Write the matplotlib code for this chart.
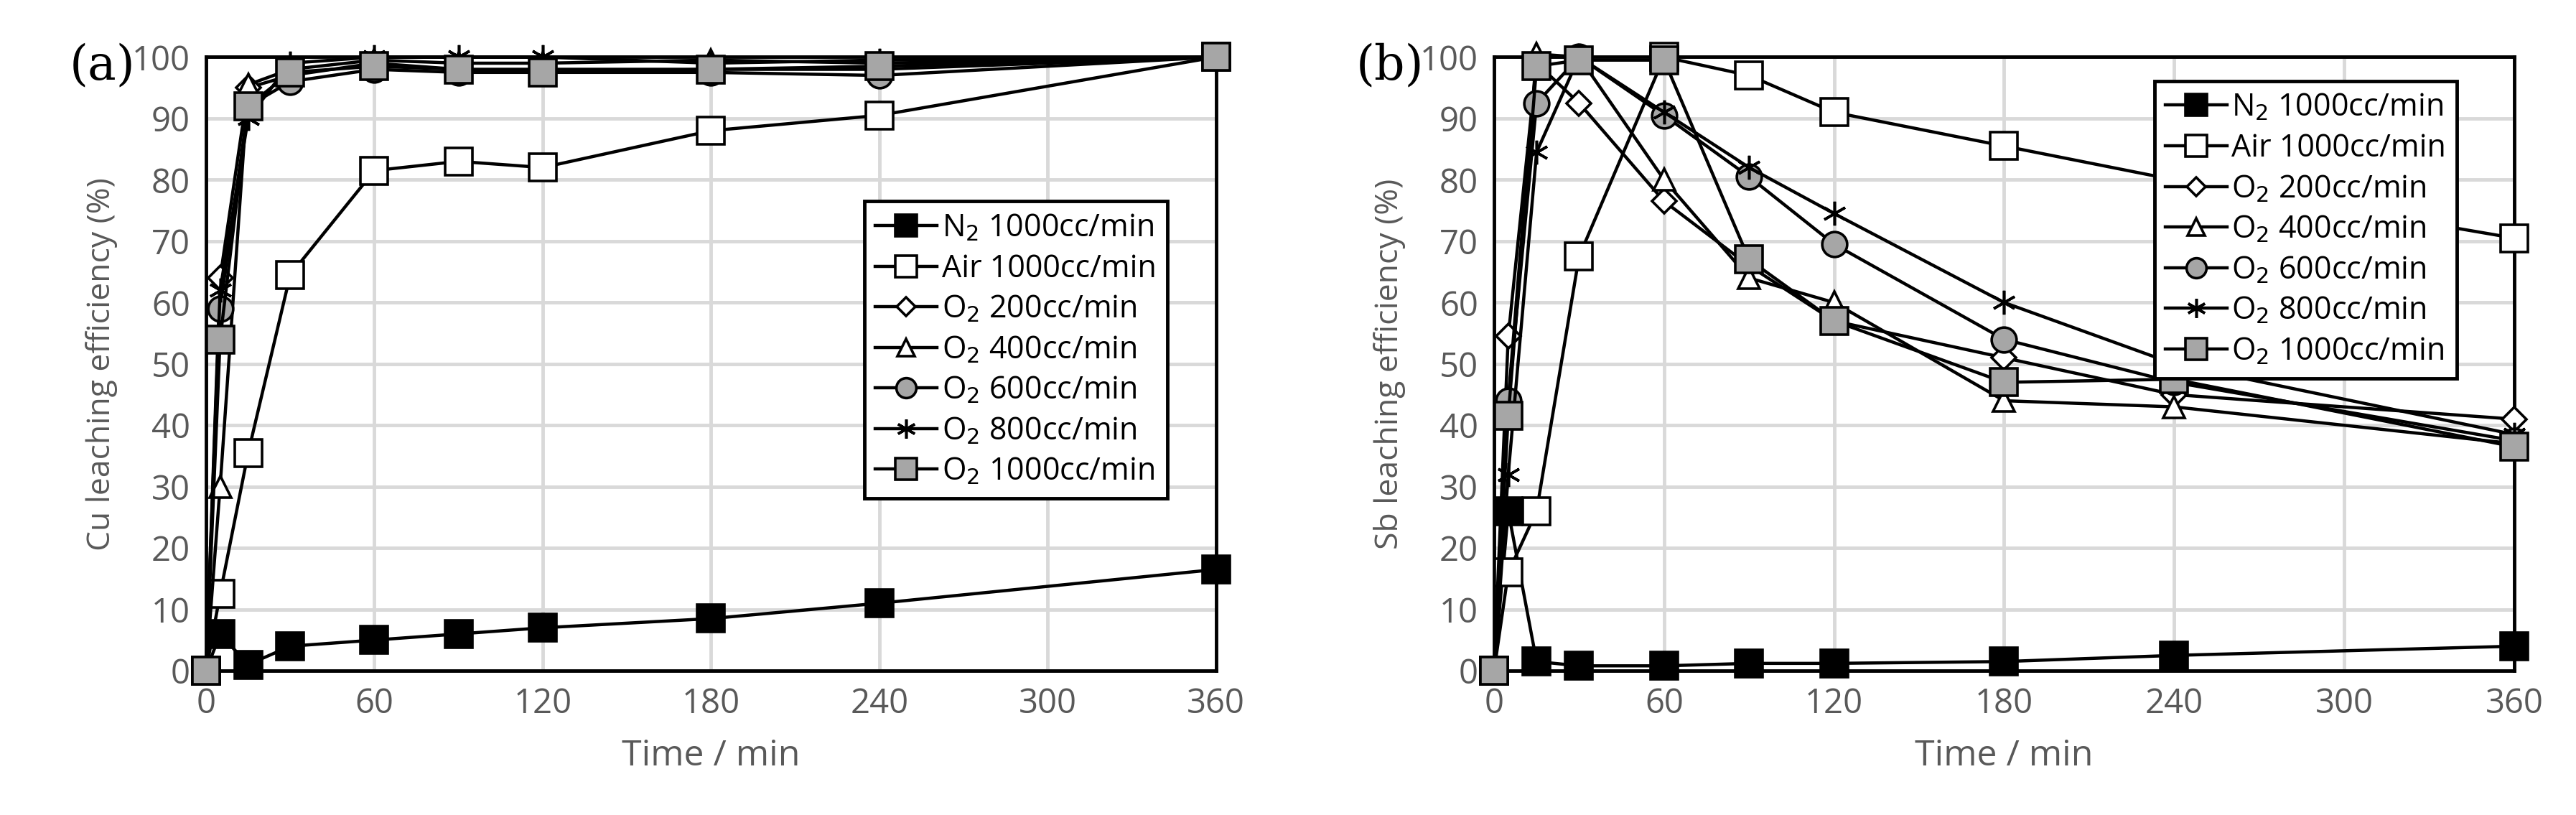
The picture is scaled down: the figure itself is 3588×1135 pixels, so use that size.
import matplotlib
matplotlib.use("Agg")
import matplotlib.pyplot as plt

plt.rcParams["font.family"] = ["Open Sans", "DejaVu Sans"]

times = [0, 5, 15, 30, 60, 90, 120, 180, 240, 360]
labels = ["N$_2$ 1000cc/min", "Air 1000cc/min", "O$_2$ 200cc/min", "O$_2$ 400cc/min",
          "O$_2$ 600cc/min", "O$_2$ 800cc/min", "O$_2$ 1000cc/min"]

cu_n2 = [0, 6, 1, 4, 5, 6, 7, 8.5, 11, 16.5]
cu_air = [0, 12.5, 35.5, 64.5, 81.5, 83, 82, 88, 90.5, 100]
cu_o200 = [0, 64, 95, 97, 99, 98, 98, 98, 98, 100]
cu_o400 = [0, 30, 95.5, 98, 99.5, 99, 99, 99.5, 99, 100]
cu_o600 = [0, 59, 92, 96, 98, 97.5, 97.5, 97.5, 97, 100]
cu_o800 = [0, 62, 90, 99, 100, 100, 100, 99, 99.5, 100]
cu_o1000 = [0, 54, 92, 97.5, 98.5, 98, 97.5, 98, 98.5, 100]

sb_n2 = [0, 26, 1.5, 0.8, 0.8, 1.2, 1.2, 1.5, 2.5, 4]
sb_air = [0, 16, 26, 67.5, 100, 97, 91, 85.5, 80, 70.5]
sb_o200 = [0, 54.5, 99, 92.5, 76.5, 66, 57, 51, 45, 41]
sb_o400 = [0, 44, 100.5, 100, 80, 64, 60, 44, 43, 37]
sb_o600 = [0, 44, 92.5, 100, 90.5, 80.5, 69.5, 54, 47, 37.5]
sb_o800 = [0, 32, 84.5, 100, 91, 82, 74.5, 60, 50, 38.5]
sb_o1000 = [0, 41.5, 98.5, 99.5, 99.5, 67, 57, 47, 47.5, 36.5]

asterisk = (6, 2, 0)
styles = [("s", "black", 27), ("s", "white", 27), ("D", "white", 17), ("^", "white", 22),
          ("o", "#a6a6a6", 25), (asterisk, "black", 24), ("s", "#a6a6a6", 27)]

fig = plt.figure(figsize=(35.88, 11.35), dpi=100)
ax_a = fig.add_axes([0.080, 0.177, 0.392, 0.753])
ax_b = fig.add_axes([0.580, 0.177, 0.396, 0.753])

panels = [
    (ax_a, [cu_n2, cu_air, cu_o200, cu_o400, cu_o600, cu_o800, cu_o1000],
     "Cu leaching efficiency (%)", "(a)", (0.967, 0.79)),
    (ax_b, [sb_n2, sb_air, sb_o200, sb_o400, sb_o600, sb_o800, sb_o1000],
     "Sb leaching efficiency (%)", "(b)", (0.959, 0.986)),
]

for ax, series, ylab, tag, anchor in panels:
    for vals, lab, (m, fc, ms) in zip(series, labels, styles):
        ax.plot(times, vals, color="black", lw=3.2, marker=m, markersize=ms,
                markerfacecolor=fc, markeredgecolor="black", markeredgewidth=2.6,
                label=lab, clip_on=False, zorder=3)
    ax.set_xlim(0, 360)
    ax.set_ylim(0, 100)
    ax.set_xticks(range(0, 361, 60))
    ax.set_yticks(range(0, 101, 10))
    ax.grid(True, color="#d9d9d9", lw=3.5)
    ax.set_axisbelow(True)
    ax.tick_params(length=0, labelsize=34, labelcolor="#595959", pad=16)
    for sp in ax.spines.values():
        sp.set_linewidth(3.5)
        sp.set_color("black")
    ax.set_xlabel("Time / min", fontsize=36, color="#595959", labelpad=18)
    ax.set_ylabel(ylab, fontsize=32, color="#595959", labelpad=14)
    leg = ax.legend(loc="upper right", bbox_to_anchor=anchor, fontsize=31,
                    fancybox=False, framealpha=1, edgecolor="black",
                    handlelength=2.0, borderpad=0.35, labelspacing=0.28,
                    handletextpad=0.15, markerscale=0.8)
    leg.get_frame().set_linewidth(3.5)
    leg.set_zorder(10)
    ax.text(-0.135, 0.985, tag, transform=ax.transAxes, fontsize=48,
            family="DejaVu Serif", ha="left", va="center")

fig.savefig("out.png", dpi=100)
